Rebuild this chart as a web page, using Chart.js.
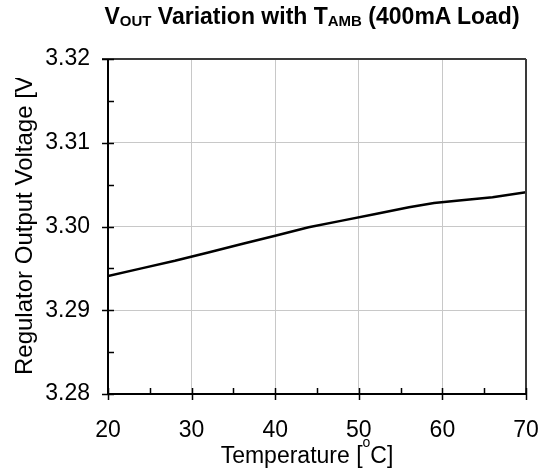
<!DOCTYPE html>
<html>
<head>
<meta charset="utf-8">
<script src="https://cdn.jsdelivr.net/npm/chart.js@4.4.1/dist/chart.umd.min.js"></script>
<style>
  html, body { margin: 0; padding: 0; background: #fff; }
  #wrap { position: relative; width: 548px; height: 473px; overflow: hidden; font-family: "Liberation Sans", Arial, sans-serif; }
  #c { position: absolute; left: 0; top: 0; }
  #title { position: absolute; left: 312px; top: 3px; transform: translateX(-50%); font-weight: bold; font-size: 23px; line-height: 26px; white-space: nowrap; color: #000; }
  #title sub { font-size: 15px; vertical-align: -2px; line-height: 0; }
  #xtitle { position: absolute; left: 307px; top: 442px; transform: translateX(-50%); font-size: 23px; line-height: 26px; white-space: nowrap; color: #000; }
  #xtitle sup { font-size: 14px; vertical-align: 16px; line-height: 0; }
  #yclip { position: absolute; left: 0; top: 78px; width: 60px; height: 395px; overflow: hidden; }
  #ytitle { position: absolute; left: 12px; top: 297px; font-size: 24px; line-height: 24px; white-space: nowrap; transform: rotate(-90deg); transform-origin: 0 0; color: #000; }
</style>
</head>
<body>
<div id="wrap">
  <canvas id="c" width="548" height="473"></canvas>
  <div id="title">V<sub>OUT</sub> Variation with T<sub>AMB</sub> (400mA Load)</div>
  <div id="yclip"><div id="ytitle">Regulator Output Voltage [V]</div></div>
  <div id="xtitle">Temperature [<sup>o</sup>C]</div>
</div>
<script>
// Data
const temperatures = [20, 24, 28, 32, 36, 40, 44, 48, 52, 56, 59, 62, 66, 70];
const voutValues   = [3.2941, 3.2950, 3.2959, 3.2969, 3.2979, 3.2989, 3.2999, 3.3007, 3.3015, 3.3023, 3.3028, 3.3031, 3.3035, 3.3041];
const xTickValues  = [20, 30, 40, 50, 60, 70];
const yTickValues  = [3.28, 3.29, 3.30, 3.31, 3.32];
const xMinorStep = 5;
const yMinorStep = 0.005;

const PLOT_LEFT = 108, PLOT_RIGHT = 526, PLOT_TOP = 59, PLOT_BOTTOM = 394;

const framePlugin = {
  id: 'frame',
  afterDatasetsDraw(chart) {
    const ctx = chart.ctx;
    const a = chart.chartArea;
    const xs = chart.scales.x, ys = chart.scales.y;
    ctx.save();
    ctx.strokeStyle = '#3a3a3a';
    ctx.lineWidth = 2;
    ctx.beginPath();
    ctx.moveTo(a.left - 6, a.top); ctx.lineTo(a.right, a.top);
    ctx.moveTo(a.right, a.top); ctx.lineTo(a.right, a.bottom);
    ctx.stroke();
    ctx.strokeStyle = '#000';
    ctx.lineWidth = 2;
    ctx.beginPath();
    ctx.moveTo(a.left, a.top); ctx.lineTo(a.left, a.bottom);
    ctx.moveTo(a.left, a.bottom); ctx.lineTo(a.right, a.bottom);
    ctx.stroke();
    ctx.lineWidth = 1.5;
    ctx.beginPath();
    const nY = Math.round((ys.max - ys.min) / yMinorStep);
    for (let i = 0; i <= nY; i++) {
      const v = ys.min + i * yMinorStep;
      const py = Math.round(ys.getPixelForValue(v)) + 0.5;
      const major = i % 2 === 0;
      ctx.moveTo(major ? a.left - 6 : a.left, py);
      ctx.lineTo(a.left + 6, py);
    }
    const nX = Math.round((xs.max - xs.min) / xMinorStep);
    for (let i = 0; i <= nX; i++) {
      const v = xs.min + i * xMinorStep;
      const px = Math.round(xs.getPixelForValue(v)) + 0.5;
      const major = i % 2 === 0;
      ctx.moveTo(px, a.bottom - 6);
      ctx.lineTo(px, major ? a.bottom + 6 : a.bottom);
    }
    ctx.stroke();
    ctx.restore();
  }
};

new Chart(document.getElementById('c'), {
  type: 'line',
  data: {
    datasets: [{
      data: temperatures.map((t, i) => ({ x: t, y: voutValues[i] })),
      borderColor: '#000',
      borderWidth: 2.5,
      pointRadius: 0,
      tension: 0,
      fill: false
    }]
  },
  options: {
    responsive: false,
    animation: false,
    devicePixelRatio: 1,
    layout: { autoPadding: false, padding: { left: 0, top: PLOT_TOP, right: 548 - PLOT_RIGHT, bottom: 0 } },
    plugins: { legend: { display: false }, tooltip: { enabled: false }, title: { display: false } },
    scales: {
      x: {
        type: 'linear',
        min: 20, max: 70,
        afterBuildTicks(s) { s.ticks = xTickValues.map(v => ({ value: v })); },
        afterFit(s) { s.height = 473 - PLOT_BOTTOM; s.paddingLeft = 0; s.paddingRight = 0; },
        grid: { color: '#c8c8c8', lineWidth: 1, drawTicks: false },
        border: { display: false },
        ticks: { color: '#000', padding: 23, font: { family: 'Liberation Sans', size: 23 } }
      },
      y: {
        type: 'linear',
        min: 3.28, max: 3.32,
        afterBuildTicks(s) { s.ticks = yTickValues.map(v => ({ value: v })); },
        afterFit(s) { s.width = PLOT_LEFT; s.paddingTop = 0; s.paddingBottom = 0; },
        grid: { color: '#c8c8c8', lineWidth: 1, drawTicks: false },
        border: { display: false },
        ticks: { color: '#000', padding: 18, font: { family: 'Liberation Sans', size: 23 }, callback: v => v.toFixed(2) }
      }
    }
  },
  plugins: [framePlugin]
});
</script>
</body>
</html>
